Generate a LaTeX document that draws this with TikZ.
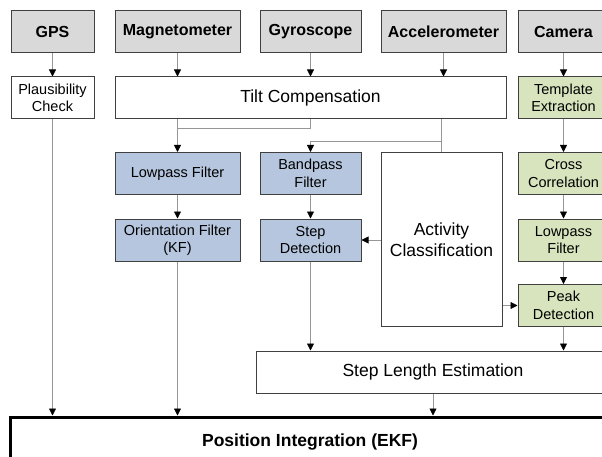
\documentclass[tikz,border=0pt]{standalone}
\usepackage{fontspec}
\setmainfont{Liberation Sans}
\usetikzlibrary{arrows.meta}

\definecolor{sensorgray}{RGB}{217,217,217}
\definecolor{imublue}{RGB}{181,198,222}
\definecolor{camgreen}{RGB}{215,228,189}
\definecolor{framegray}{RGB}{64,64,64}
\definecolor{linegray}{RGB}{150,150,150}

\tikzset{
  block/.style={draw=framegray, line width=1pt, inner sep=0pt, align=center,
    font=\fontsize{14.5}{17.5}\selectfont},
  sensor/.style={block, fill=sensorgray, minimum height=42pt,
    font=\fontsize{16}{19}\selectfont\bfseries},
  imubox/.style={block, fill=imublue, minimum height=42pt},
  cambox/.style={block, fill=camgreen, minimum width=91pt, minimum height=42pt},
  bigbox/.style={block, font=\fontsize{17.5}{21}\selectfont},
  flow/.style={draw=linegray, line width=0.8pt,
    -{Triangle[length=7pt,width=7pt,color=black]}},
  joint/.style={draw=linegray, line width=0.8pt}
}

\begin{document}
\begin{tikzpicture}[x=1pt, y=-1pt]
    \clip (0,0) rectangle (602,457);

    % Sensors
    \node[sensor, minimum width=83pt]  (gps)   at (52.5, 32) {GPS};
    \node[sensor, minimum width=125pt] (mag)   at (177.5, 32) {Magnetometer};
    \node[sensor, minimum width=101pt] (gyro)  at (310.5, 32) {Gyroscope};
    \node[sensor, minimum width=125pt] (acc)   at (443.5, 32) {Accelerometer};
    \node[sensor, minimum width=91pt]  (cam)   at (563.5, 32) {Camera};

    % Preprocessing
    \node[block, minimum width=83pt, minimum height=42pt] (plaus) at (52.5, 98) {Plausibility\\Check};
    \node[bigbox, minimum width=391pt, minimum height=42pt] (tilt) at (310.5, 98) {Tilt Compensation};
    \node[cambox] (templ) at (563.5, 98) {Template\\Extraction};

    % Orientation and step branch
    \node[imubox, minimum width=125pt] (lowpass) at (177.5, 173.5) {Lowpass Filter};
    \node[imubox, minimum width=101pt] (bandpass) at (310.5, 173.5) {Bandpass\\Filter};
    \node[imubox, minimum width=125pt] (orient) at (177.5, 240) {Orientation Filter\\(KF)};
    \node[imubox, minimum width=101pt] (stepdet) at (310.5, 240) {Step\\Detection};
    \node[bigbox, minimum width=121pt, minimum height=173pt] (activity) at (441.5, 239.5) {Activity\\Classification};

    % Camera branch
    \node[cambox] (xcorr)   at (563.5, 173.5) {Cross\\Correlation};
    \node[cambox] (camlow)  at (563.5, 240) {Lowpass\\Filter};
    \node[cambox] (peakdet) at (563.5, 305.5) {Peak\\Detection};

    % Fusion
    \node[bigbox, minimum width=354pt, minimum height=42pt] (steplen) at (433, 372) {Step Length Estimation};
    \node[block, line width=3pt, draw=black, minimum width=600pt, minimum height=50pt,
      font=\fontsize{17.5}{21}\selectfont\bfseries] (posint) at (310, 442) {Position Integration (EKF)};

    % Junctions below the tilt compensation
    \coordinate (magJoin) at (177.5, 128);
    \coordinate (accJoin) at (441.5, 141);

    % Sensor inputs
    \draw[flow] (gps) -- (plaus);
    \draw[flow] (mag.south) -- (mag.south |- tilt.north);
    \draw[flow] (gyro) -- (tilt);
    \draw[flow] (acc.south) -- (acc.south |- tilt.north);
    \draw[flow] (cam) -- (templ);

    % Tilt compensated signals
    \draw[flow] (lowpass.north |- tilt.south) -- (lowpass.north);
    \draw[joint] (bandpass.north |- tilt.south) |- (magJoin);
    \draw[joint] (activity.north |- tilt.south) -- (activity.north);
    \draw[flow] (accJoin) -| (bandpass.north);

    \draw[flow] (lowpass) -- (orient);
    \draw[flow] (bandpass) -- (stepdet);
    \draw[flow] (activity.west |- stepdet) -- (stepdet.east);
    \draw[flow] (activity.east |- peakdet) -- (peakdet.west);

    \draw[flow] (templ) -- (xcorr);
    \draw[flow] (xcorr) -- (camlow);
    \draw[flow] (camlow) -- (peakdet);

    % Into the step length and the position filter
    \draw[flow] (stepdet.south) -- (stepdet.south |- steplen.north);
    \draw[flow] (peakdet.south) -- (peakdet.south |- steplen.north);
    \draw[flow] (plaus.south) -- (plaus.south |- posint.north);
    \draw[flow] (orient.south) -- (orient.south |- posint.north);
    \draw[flow] (steplen.south) -- (steplen.south |- posint.north);
\end{tikzpicture}
\end{document}
